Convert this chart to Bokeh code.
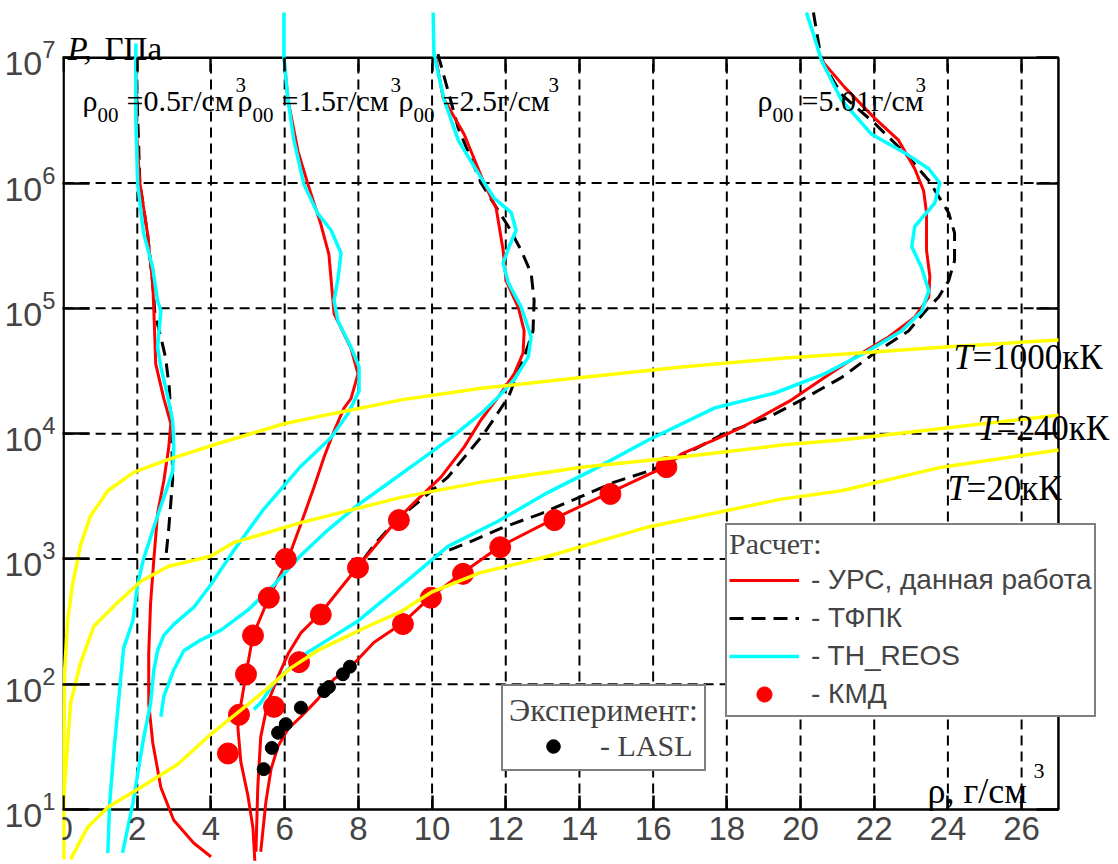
from bokeh.plotting import figure
from bokeh.models import Range1d, LinearAxis, LogAxis, FixedTicker, Label, Legend, LegendItem
from bokeh.core.properties import value
from bokeh.embed import file_html
from bokeh.resources import INLINE

# ---------------- data ----------------
x_ticks = [0, 2, 4, 6, 8, 10, 12, 14, 16, 18, 20, 22, 24, 26]
p_ticks = [1e1, 1e2, 1e3, 1e4, 1e5, 1e6, 1e7]
rho00_values = ["0.5", "1.5", "2.5", "5.01"]
T_values = ["1000", "240", "20"]

# УРС, данная работа (red)
urs_05_rho = [1.96, 1.98, 2.07, 2.28, 2.42, 2.45, 2.50, 2.72, 2.91, 2.85, 2.72, 2.55, 2.45, 2.36, 2.31, 2.31, 2.42, 2.64, 2.99, 3.53, 4.00]
urs_05_p = [1.0e7, 2.5e6, 1.0e6, 3.9e5, 1.55e5, 9.5e4, 3.6e4, 1.9e4, 1.2e4, 7.6e3, 4.2e3, 2.3e3, 1.0e3, 440, 175, 70, 34, 15, 8.2, 5.4, 4.2]
urs_15_rho = [5.98, 6.09, 6.17, 6.36, 6.63, 6.98, 7.20, 7.31, 7.34, 7.80, 7.99, 7.80, 7.61, 7.34, 7.07, 6.79, 6.44, 6.09, 5.57, 5.14, 4.95, 4.76, 4.73, 4.81, 5.00, 5.14, 5.19]
urs_15_p = [1.0e7, 4.6e6, 3.5e6, 1.8e6, 9.8e5, 4.7e5, 2.7e5, 1.15e5, 9.1e4, 4.8e4, 3.0e4, 1.9e4, 1.6e4, 1.05e4, 6.5e3, 3.7e3, 1.9e3, 1.0e3, 490, 245, 120, 56, 45, 24, 13, 7.1, 3.9]
urs_25_rho = [10.10, 10.30, 10.87, 11.41, 11.74, 11.93, 12.01, 12.34, 12.50, 12.47, 12.23, 11.79, 11.33, 10.87, 10.24, 9.51, 9.08, 7.99, 6.98, 6.44, 6.09, 5.82, 5.54, 5.35, 5.27, 5.22]
urs_25_p = [1.0e7, 4.8e6, 2.45e6, 1.0e6, 6.3e5, 2.9e5, 1.66e5, 1.02e5, 6.6e4, 4.4e4, 3.0e4, 1.95e4, 1.29e4, 7.8e3, 4.5e3, 2.8e3, 2.1e3, 870, 370, 257, 174, 115, 71, 38, 15, 4.6]
urs_50_rho = [20.57, 20.63, 21.20, 22.01, 22.66, 23.10, 23.34, 23.42, 23.42, 23.51, 23.48, 23.10, 22.39, 21.66, 20.65, 19.76, 18.40, 17.66, 16.77, 16.36, 14.84, 13.32, 11.85, 10.84, 9.97, 9.21, 8.42, 7.80, 7.34, 6.90, 6.44, 6.09, 5.82, 5.63, 5.49, 5.35]
urs_50_p = [1.0e7, 9.1e6, 5.8e6, 3.3e6, 2.2e6, 1.3e6, 8.7e5, 5.8e5, 2.9e5, 1.8e5, 1.23e5, 8.5e4, 5.9e4, 4.4e4, 2.8e4, 1.86e4, 1.12e4, 8.9e3, 6.9e3, 5.5e3, 3.4e3, 2.1e3, 1.26e3, 780, 500, 310, 215, 138, 110, 76, 55, 44, 32, 21, 11.5, 4.6]

# ТФПК (black dashed)
tfpk_05_rho = [1.96, 2.07, 2.28, 2.42, 2.48, 2.64, 2.77, 2.87, 2.93, 2.96, 2.85, 2.77]
tfpk_05_p = [1.0e7, 1.0e6, 3.9e5, 1.55e5, 9.0e4, 5.9e4, 4.0e4, 2.3e4, 1.07e4, 4.3e3, 1.7e3, 1.0e3]
tfpk_25_rho = [10.16, 10.71, 11.33, 12.07, 12.42, 12.69, 12.77, 12.74, 12.50, 12.07, 11.41, 10.43, 9.78, 9.08, 8.48, 7.96]
tfpk_25_p = [1.07e7, 2.75e6, 1.0e6, 4.5e5, 2.9e5, 1.9e5, 1.15e5, 6.6e4, 4.1e4, 1.95e4, 1.0e4, 4.5e3, 3.1e3, 2.1e3, 1.35e3, 850]
tfpk_50_rho = [20.35, 20.57, 21.11, 22.01, 22.83, 23.48, 24.02, 24.18, 24.18, 24.02, 23.75, 23.48, 22.93, 22.01, 21.11, 20.03, 19.13, 17.93, 16.96, 15.95, 14.95, 13.99, 12.96, 11.96, 11.06, 10.05]
tfpk_50_p = [2.3e7, 9.5e6, 5.1e6, 3.0e6, 1.74e6, 1.05e6, 5.8e5, 4.0e5, 2.4e5, 1.66e5, 1.23e5, 1.02e5, 6.6e4, 4.4e4, 2.8e4, 1.86e4, 1.35e4, 1.0e4, 7.1e3, 5.1e3, 4.1e3, 3.1e3, 2.3e3, 1.8e3, 1.38e3, 1.05e3]

# TH_REOS (cyan)
reos_05_rho = [1.96, 1.96, 2.01, 2.17, 2.42, 2.55, 2.64, 2.55, 2.64, 2.83, 2.96, 2.99, 2.96, 2.72, 2.45, 2.17, 2.01, 1.88, 1.63, 1.55, 1.47, 1.36, 1.25, 1.20]
reos_05_p = [1.3e7, 3.3e6, 9.8e5, 4.0e5, 2.1e5, 1.15e5, 9.5e4, 4.9e4, 3.4e4, 1.95e4, 1.26e4, 7.8e3, 5.0e3, 3.1e3, 1.8e3, 1.0e3, 630, 320, 195, 112, 62, 28, 11.2, 4.5]
reos_15_rho = [5.98, 5.98, 6.09, 6.25, 6.52, 6.90, 7.26, 7.53, 7.45, 7.34, 7.45, 7.80, 8.02, 8.02, 7.72, 7.26, 6.44, 5.41, 4.62, 3.99, 3.53, 2.99, 2.72, 2.55, 2.45, 2.36, 2.17, 1.88, 1.60]
reos_15_p = [2.3e7, 1.0e7, 4.6e6, 2.2e6, 9.8e5, 5.7e5, 4.2e5, 2.75e5, 1.75e5, 1.15e5, 7.9e4, 4.9e4, 3.4e4, 2.2e4, 1.45e4, 9.3e3, 5.5e3, 2.45e3, 1.17e3, 620, 410, 300, 245, 185, 130, 70, 37, 11.2, 4.5]
reos_25_rho = [10.03, 10.05, 10.33, 10.71, 11.25, 11.68, 12.15, 12.28, 12.09, 11.93, 12.07, 12.42, 12.69, 12.61, 12.23, 11.79, 11.33, 10.52, 9.70, 8.80, 7.99, 7.17, 6.44, 5.71, 5.00, 4.27, 3.72, 3.26, 2.99, 2.72, 2.64]
reos_25_p = [2.3e7, 1.07e7, 4.6e6, 2.2e6, 1.2e6, 7.6e5, 5.8e5, 4.2e5, 3.1e5, 2.3e5, 1.6e5, 1.02e5, 5.9e4, 4.1e4, 2.7e4, 1.95e4, 1.45e4, 9.3e3, 6.2e3, 4.0e3, 2.7e3, 1.7e3, 1.07e3, 620, 390, 270, 225, 185, 130, 80, 55]
reos_50_rho = [20.16, 20.35, 20.57, 21.11, 21.93, 22.83, 23.48, 23.78, 23.64, 23.10, 23.02, 23.29, 23.48, 23.29, 22.74, 21.74, 20.65, 19.29, 17.66, 15.87, 14.51, 13.15, 11.79, 10.43, 9.35, 7.99, 6.44, 5.71, 5.35, 5.16]
reos_50_p = [2.3e7, 1.55e7, 9.5e6, 4.6e6, 2.45e6, 1.74e6, 1.3e6, 1.0e6, 6.9e5, 4.5e5, 3.1e5, 2.1e5, 1.38e5, 9.5e4, 6.6e4, 4.4e4, 3.0e4, 2.1e4, 1.6e4, 8.9e3, 5.4e3, 3.4e3, 2.0e3, 1.26e3, 680, 320, 166, 102, 71, 63]

# isotherms (yellow)
t1000_rho = [0.0, 0.0, 0.03, 0.11, 0.24, 0.46, 0.73, 1.20, 1.90, 2.83, 4.18, 5.98, 7.34, 9.16, 11.33, 14.05, 16.77, 19.48, 21.11, 23.83, 27.0]
t1000_p = [4.0, 25, 130, 320, 620, 1.29e3, 2.2e3, 3.5e3, 4.9e3, 6.2e3, 8.3e3, 1.2e4, 1.45e4, 1.86e4, 2.3e4, 2.8e4, 3.4e4, 4.0e4, 4.3e4, 4.9e4, 5.6e4]
t240_rho = [0.0, 0.0, 0.19, 0.46, 0.82, 1.47, 2.09, 2.83, 3.99, 4.62, 6.44, 9.16, 11.33, 14.05, 16.77, 19.48, 21.11, 23.83, 27.0]
t240_p = [4.0, 12, 71, 148, 290, 450, 660, 870, 1.05e3, 1.35e3, 1.95e3, 3.1e3, 4.1e3, 5.4e3, 6.5e3, 8.1e3, 8.9e3, 1.1e4, 1.4e4]
t20_rho = [0.19, 0.65, 1.22, 2.09, 3.10, 4.00, 4.81, 5.54, 6.17, 6.90, 8.26, 9.16, 9.97, 11.33, 13.15, 15.87, 19.48, 21.11, 23.83, 27.0]
t20_p = [4.0, 7.2, 10.5, 15, 23, 40, 62, 93, 135, 186, 290, 380, 540, 780, 1.05e3, 1.8e3, 3.0e3, 3.5e3, 5.4e3, 7.4e3]

# КМД (red dots)
kmd_rho = [4.46, 4.76, 4.95, 5.14, 5.57, 6.03, 5.71, 6.39, 6.98, 7.99, 9.10, 9.21, 9.97, 10.84, 11.85, 13.32, 14.84, 16.36]
kmd_p = [28, 57, 120, 245, 490, 1000, 66, 150, 360, 850, 2040, 302, 490, 760, 1240, 2040, 3300, 5400]

# LASL experiment (black dots)
lasl_rho = [5.43, 5.65, 5.82, 6.03, 6.44, 7.07, 7.20, 7.58, 7.77]
lasl_p = [21, 31, 41, 48, 65, 88, 95, 120, 138]

# ---------------- layout / style ----------------
W, H = 1118, 864
BORDER_L = 62
FRAME_RHO = (0, 27)
FRAME_P = (1e1, 1e7)
SERIF = "Liberation Serif"
SANS = "Liberation Sans"

p = figure(width=W, height=H, x_range=Range1d(-0.03, 28.63),
           y_range=Range1d(10 ** 0.561, 10 ** 7.457), y_axis_type="log",
           output_backend="svg", toolbar_location=None,
           min_border_left=BORDER_L, min_border_right=0,
           min_border_top=0, min_border_bottom=0,
           outline_line_color=None, background_fill_color="white",
           border_fill_color="white")
p.grid.visible = False

xa = p.xaxis[0]
xa.fixed_location = FRAME_P[0]
xa.ticker = FixedTicker(ticks=x_ticks, minor_ticks=[])
xa.axis_line_color = None
xa.major_tick_in = 14
xa.major_tick_out = 0
xa.major_tick_line_width = 2.5
xa.minor_tick_line_color = None
xa.major_label_text_font = SANS
xa.major_label_text_font_size = "33px"
xa.major_label_standoff = 8

ya = p.yaxis[0]
ya.ticker = FixedTicker(ticks=p_ticks, minor_ticks=[])
ya.axis_line_color = None
ya.major_tick_in = 27
ya.major_tick_out = 0
ya.major_tick_line_width = 2.5
ya.minor_tick_line_color = None
ya.major_label_text_font = SANS
ya.major_label_text_font_size = "34px"
ya.major_label_standoff = 7

top_ax = LinearAxis(fixed_location=FRAME_P[1], ticker=FixedTicker(ticks=x_ticks, minor_ticks=[]),
                    axis_line_color=None, major_tick_in=14, major_tick_out=0,
                    major_tick_line_width=2.5, minor_tick_line_color=None,
                    major_label_text_color=None)
p.add_layout(top_ax, "above")
right_ax = LogAxis(fixed_location=FRAME_RHO[1], ticker=FixedTicker(ticks=p_ticks, minor_ticks=[]),
                   axis_line_color=None, major_tick_in=22, major_tick_out=0,
                   major_tick_line_width=2.5, minor_tick_line_color=None,
                   major_label_text_color=None)
p.add_layout(right_ax, "right")

# dashed grid inside the frame
gx = [t for t in x_ticks if FRAME_RHO[0] < t < FRAME_RHO[1]]
p.segment(x0=gx, y0=[FRAME_P[0]] * len(gx), x1=gx, y1=[FRAME_P[1]] * len(gx),
          line_color="black", line_width=2, line_dash="10 6")
gy = [t for t in p_ticks if FRAME_P[0] < t < FRAME_P[1]]
p.segment(x0=[FRAME_RHO[0]] * len(gy), y0=gy, x1=[FRAME_RHO[1]] * len(gy), y1=gy,
          line_color="black", line_width=2, line_dash="10 6")
p.quad(left=[FRAME_RHO[0]], right=[FRAME_RHO[1]], bottom=[FRAME_P[0]], top=[FRAME_P[1]],
       fill_color=None, line_color="black", line_width=2.5)

RED, CYAN, YEL = "#ff0000", "#00ffff", "#ffff00"

tfpk_r = [p.line(x, y, line_color="black", line_width=3, line_dash="14 8")
          for x, y in [(tfpk_05_rho, tfpk_05_p), (tfpk_25_rho, tfpk_25_p), (tfpk_50_rho, tfpk_50_p)]]
urs_r = [p.line(x, y, line_color=RED, line_width=3)
         for x, y in [(urs_05_rho, urs_05_p), (urs_15_rho, urs_15_p), (urs_25_rho, urs_25_p), (urs_50_rho, urs_50_p)]]
reos_r = [p.line(x, y, line_color=CYAN, line_width=3.5)
          for x, y in [(reos_05_rho, reos_05_p), (reos_15_rho, reos_15_p), (reos_25_rho, reos_25_p), (reos_50_rho, reos_50_p)]]
kmd_r = p.scatter(kmd_rho, kmd_p, marker="circle", size=21, fill_color=RED, line_color=RED)
for x, y in [(t1000_rho, t1000_p), (t240_rho, t240_p), (t20_rho, t20_p)]:
    p.line(x, y, line_color=YEL, line_width=3.5)
lasl_r = p.scatter(lasl_rho, lasl_p, marker="circle", size=13, fill_color="black", line_color="black")

# legends
leg1 = Legend(items=[LegendItem(label=value("- УРС, данная работа"), renderers=[urs_r[0]]),
                     LegendItem(label=value("- ТФПК"), renderers=[tfpk_r[0]]),
                     LegendItem(label=value("- TH_REOS"), renderers=[reos_r[0]]),
                     LegendItem(label=value("- КМД"), renderers=[kmd_r])],
              title="Расчет:", location=(663, 147), margin=0, padding=2, spacing=0,
              glyph_width=70, glyph_height=38, label_height=38, label_standoff=12,
              title_text_font=SERIF, title_text_font_size="30px", title_text_font_style="normal",
              title_standoff=0, label_text_font=SANS, label_text_font_size="28px",
              border_line_color="black", border_line_width=2, background_fill_alpha=1.0)
p.add_layout(leg1)
leg2 = Legend(items=[LegendItem(label=value("- LASL"), renderers=[lasl_r])],
              title="Эксперимент:", location=(439, 93), margin=0, padding=6, spacing=0,
              glyph_width=88, glyph_height=34, label_height=34, label_standoff=3,
              title_text_font=SERIF, title_text_font_size="32px", title_text_font_style="normal",
              title_standoff=0, label_text_font=SERIF, label_text_font_size="30px",
              border_line_color="black", border_line_width=2, background_fill_alpha=1.0)
p.add_layout(leg2)


def text(t, sx, sy, size, font=SERIF, style="normal"):
    p.add_layout(Label(x=sx - BORDER_L, y=H - sy, x_units="screen", y_units="screen", text=t,
                       text_font=font, text_font_size=f"{size}px", text_font_style=style,
                       text_baseline="alphabetic", text_align="left", text_color="black"))


# ρ00 labels
rho_pos = [(82, 153), (237, 153), (398, 150), (757, 158)]
for v, (sx, sup) in zip(rho00_values, rho_pos):
    text("ρ", sx, 100, 30)
    text("00", sx + 15, 114, 21)
    text("=" + v + "г/см", sx + 44, 100, 30)
    text("3", sx + sup, 84, 21)

# isotherm labels
T_pos = [(953, 357), (977, 428), (947, 488)]
for v, (sx, sy) in zip(T_values, T_pos):
    text("T", sx, sy, 35, style="italic")
    text("=" + v + "кК", sx + 19, sy, 35)

# axis titles
text("P,", 67, 48, 33, style="italic")
text("ГПа", 104, 48, 33)
text("ρ, г/см", 927, 790, 36)
text("3", 1033, 770, 22)

open("out.html", "w").write(file_html(p, INLINE, "chart"))
